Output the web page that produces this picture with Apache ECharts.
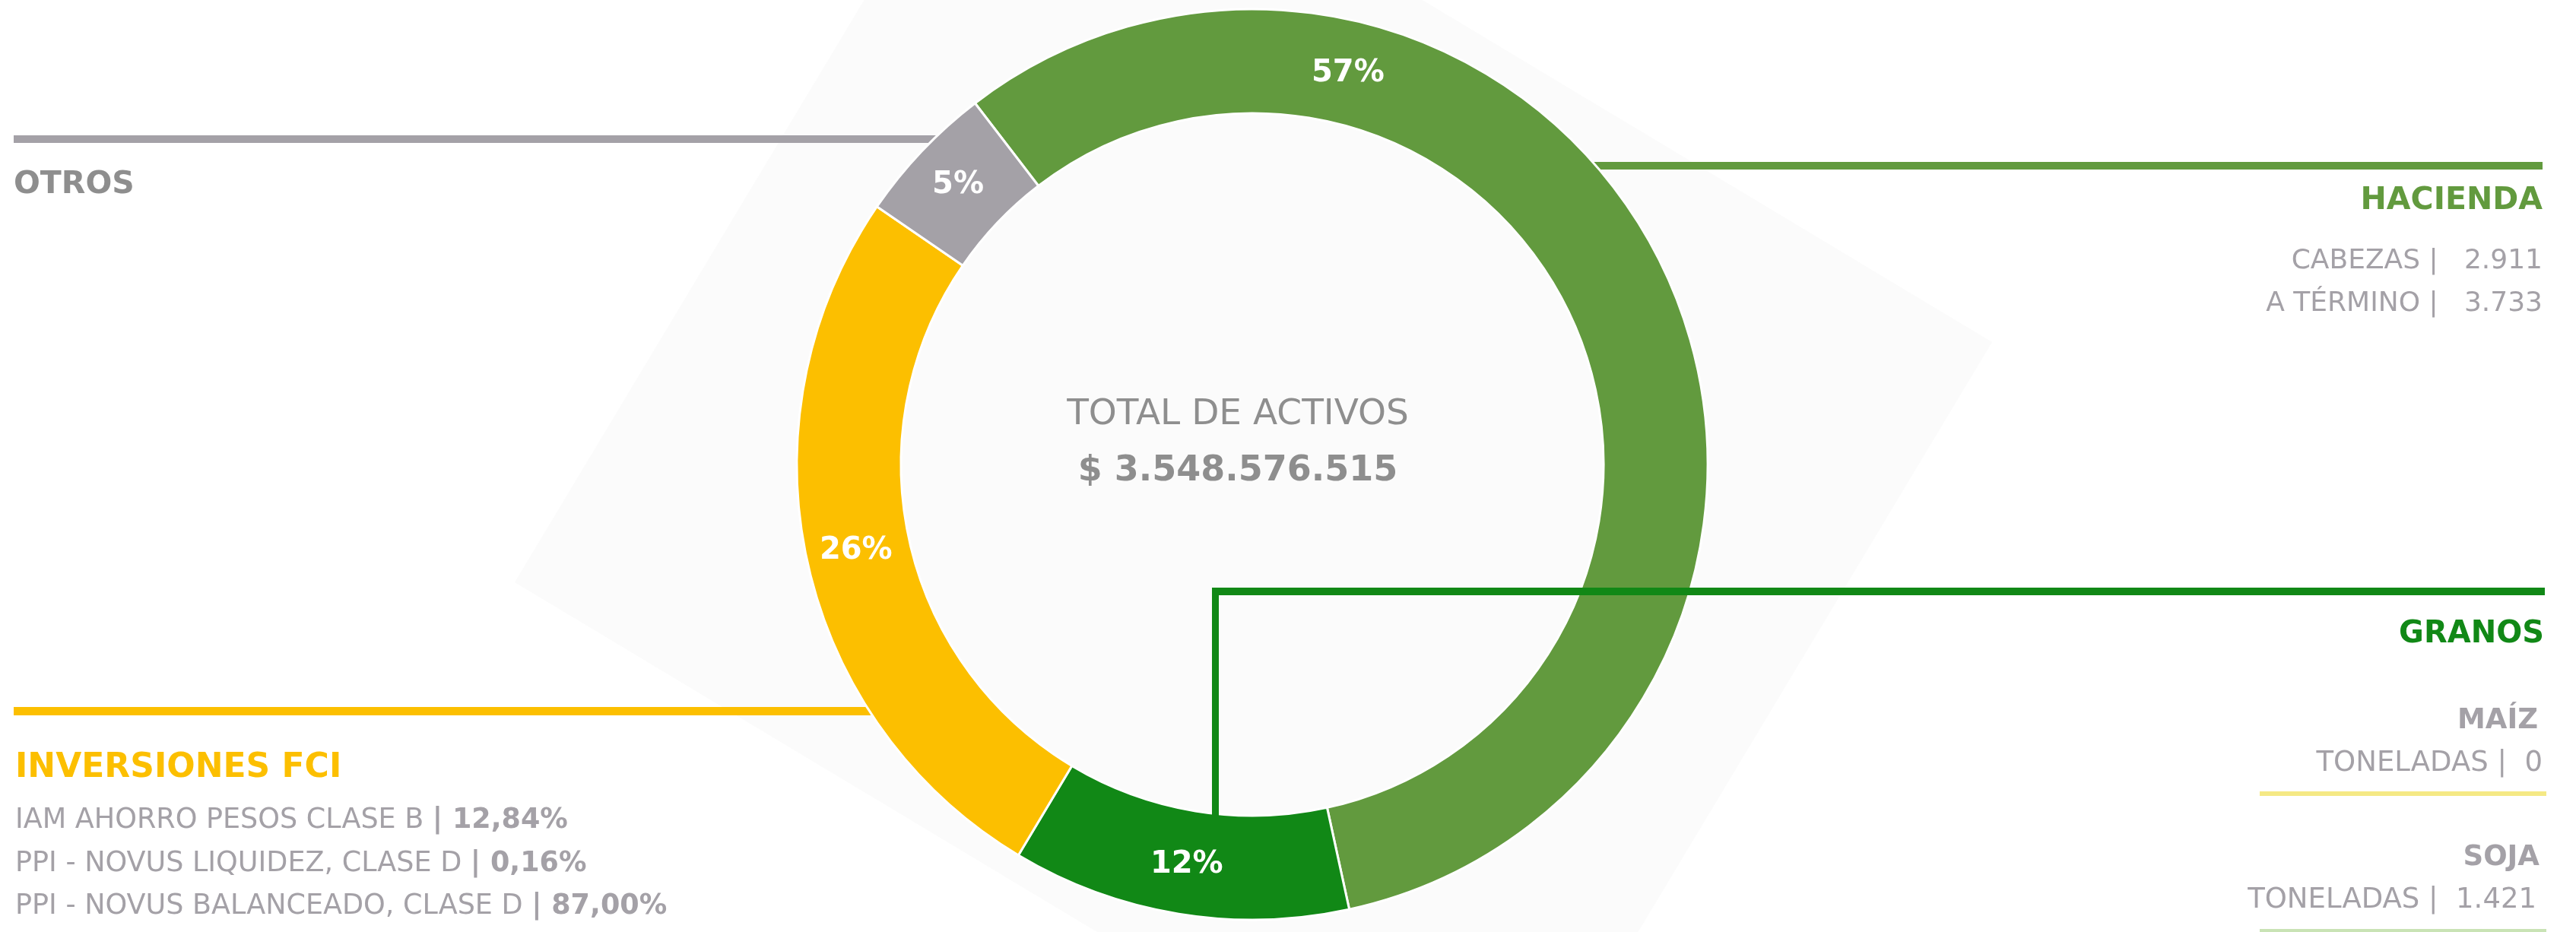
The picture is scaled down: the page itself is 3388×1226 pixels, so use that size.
<!DOCTYPE html>
<html>
<head>
<meta charset="utf-8">
<script src="https://cdn.jsdelivr.net/npm/echarts@6/dist/echarts.min.js"></script>
<style>
html,body{margin:0;padding:0;background:#ffffff;}
#chart{width:3388px;height:1226px;}
</style>
</head>
<body>
<div id="chart"></div>
<script>
// ---- data ----
const categories = ['HACIENDA', 'GRANOS', 'INVERSIONES FCI', 'OTROS'];
const shares = [57, 12, 26, 5];
const totalLabel = 'TOTAL DE ACTIVOS';
const totalValue = '$ 3.548.576.515';
const haciendaRows = [['CABEZAS', '2.911'], ['A TÉRMINO', '3.733']];
const granosItems = ['MAÍZ', 'SOJA'];
const granosUnits = ['TONELADAS', 'TONELADAS'];
const granosValues = ['0', '1.421'];
const fciNames = ['IAM AHORRO PESOS CLASE B', 'PPI - NOVUS LIQUIDEZ, CLASE D', 'PPI - NOVUS BALANCEADO, CLASE D'];
const fciShares = ['12,84%', '0,16%', '87,00%'];

// ---- styles ----
const colors = ['#629A3E', '#118816', '#FCBF00', '#A4A1A7'];
const FONT = '"DejaVu Sans", sans-serif';
const GRAY_T = '#8E8E8E';
const GRAY_D = '#A4A1A7';

const chart = echarts.init(document.getElementById('chart'), null, {renderer: 'canvas'});

const graphics = [];
// background slanted panel
graphics.push({type: 'polygon', z: 0, shape: {points: [[1331, -324], [2620, 450], [1966, 1540], [677, 766]]}, style: {fill: '#FBFBFB'}});
// leader lines (under the ring)
graphics.push({type: 'rect', z: 1, shape: {x: 18, y: 178, width: 1282, height: 10}, style: {fill: colors[3]}});
graphics.push({type: 'rect', z: 1, shape: {x: 2094, y: 213, width: 1250, height: 10}, style: {fill: colors[0]}});
graphics.push({type: 'rect', z: 1, shape: {x: 18, y: 930, width: 1127, height: 11}, style: {fill: colors[2]}});
// granos leader (over the ring)
graphics.push({type: 'rect', z: 10, shape: {x: 1594, y: 773, width: 1753, height: 10}, style: {fill: colors[1]}});
graphics.push({type: 'rect', z: 10, shape: {x: 1594, y: 773, width: 9, height: 322}, style: {fill: colors[1]}});
// separators under grain items
graphics.push({type: 'rect', z: 1, shape: {x: 2972, y: 1041, width: 377, height: 6}, style: {fill: '#F5E985'}});
graphics.push({type: 'rect', z: 1, shape: {x: 2972, y: 1222, width: 377, height: 4}, style: {fill: '#C9E3B5'}});

function txt(x, y, text, size, weight, color, align, extra) {
  const o = {type: 'text', z: 10, x: x, y: y,
    style: {text: text, font: weight + ' ' + size + 'px ' + FONT, fill: color, textAlign: align, textVerticalAlign: 'middle'}};
  if (extra) Object.assign(o.style, extra);
  return o;
}

// centre text
graphics.push(txt(1628, 546, totalLabel, 47, 'normal', GRAY_T, 'center'));
graphics.push(txt(1628, 620, totalValue, 46, 'bold', GRAY_T, 'center'));

// OTROS
graphics.push(txt(18, 243, categories[3], 41, 'bold', GRAY_T, 'left'));

// HACIENDA
graphics.push(txt(3344, 264, categories[0], 41, 'bold', colors[0], 'right'));
haciendaRows.forEach((r, i) => {
  graphics.push(txt(3344, 344 + i * 56, r[0] + ' |   ' + r[1], 36, 'normal', GRAY_D, 'right'));
});

// GRANOS
graphics.push(txt(3346, 835, categories[1], 40, 'bold', colors[1], 'right'));
const granosY = [948, 1128];
granosItems.forEach((g, i) => {
  graphics.push(txt([3338, 3340][i], granosY[i], g, 37, 'bold', GRAY_D, 'right'));
  graphics.push(txt([3344, 3336][i], granosY[i] + 56, granosUnits[i] + ' |  ' + granosValues[i], 37, 'normal', GRAY_D, 'right'));
});

// INVERSIONES FCI
graphics.push(txt(20, 1011, categories[2], 44, 'bold', colors[2], 'left'));
fciNames.forEach((n, i) => {
  graphics.push({type: 'text', z: 10, x: 20, y: 1080 + i * 56.5,
    style: {text: '{a|' + n + ' }{b|| ' + fciShares[i] + '}',
      textVerticalAlign: 'middle', textAlign: 'left',
      rich: {a: {font: 'normal 36.5px ' + FONT, fill: GRAY_D, color: GRAY_D},
             b: {font: 'bold 36.5px ' + FONT, fill: GRAY_D, color: GRAY_D}}}});
});

const option = {
  animation: false,
  backgroundColor: '#ffffff',
  color: colors,
  graphic: {elements: graphics},
  series: [{
    type: 'pie',
    z: 5,
    center: [1647, 611],
    radius: [462, 599],
    startAngle: 127.5,
    clockwise: true,
    silent: true,
    itemStyle: {borderColor: '#ffffff', borderWidth: 3},
    label: {
      show: true, position: 'inside',
      formatter: p => p.value + '%',
      color: '#ffffff', fontWeight: 'bold', fontSize: 40, fontFamily: FONT
    },
    labelLine: {show: false},
    labelLayout: function (params) {
      if (params.dataIndex === 0) return {dx: -358, dy: -290};
      return {};
    },
    data: categories.map((c, i) => ({name: c, value: shares[i]}))
  }]
};
chart.setOption(option);
</script>
</body>
</html>
